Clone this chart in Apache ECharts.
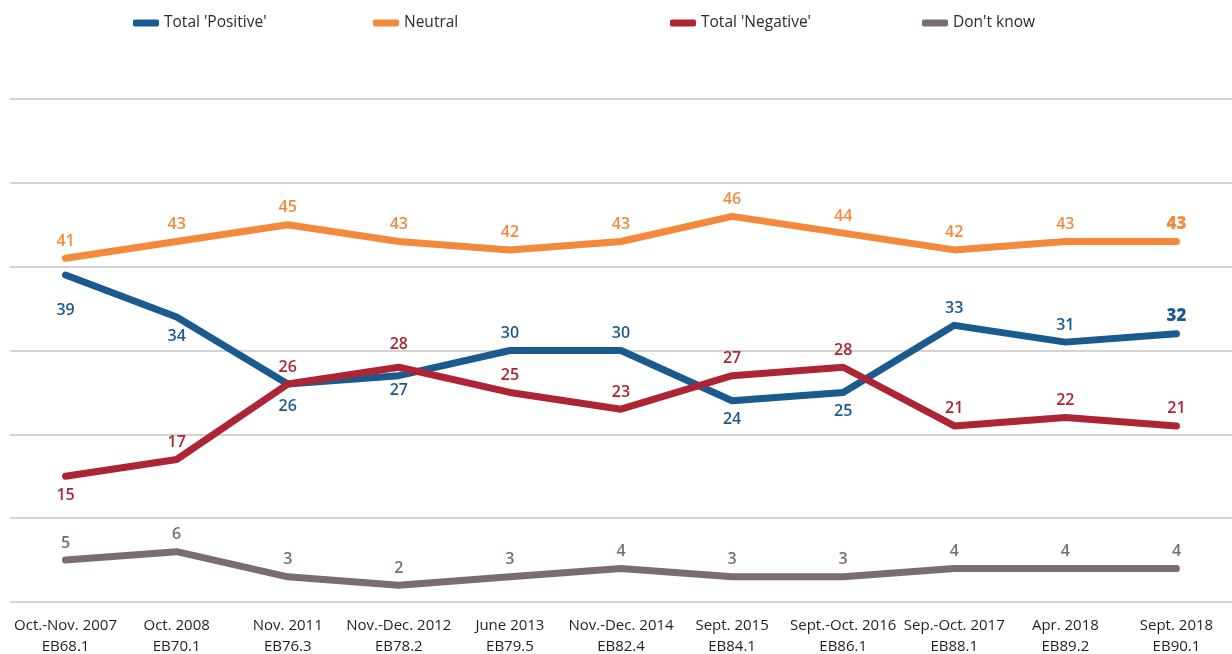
<!DOCTYPE html>
<html>
<head>
<meta charset="utf-8">
<script src="https://cdn.jsdelivr.net/npm/echarts@6/dist/echarts.min.js"></script>
<style>
  html, body { margin: 0; padding: 0; background: #fff; }
  #chart { width: 1232px; height: 654px; }
</style>
</head>
<body>
<div id="chart"></div>
<script>
const waves = [
  "Oct.-Nov. 2007\nEB68.1", "Oct. 2008\nEB70.1", "Nov. 2011\nEB76.3", "Nov.-Dec. 2012\nEB78.2",
  "June 2013\nEB79.5", "Nov.-Dec. 2014\nEB82.4", "Sept. 2015\nEB84.1", "Sept.-Oct. 2016\nEB86.1",
  "Sep.-Oct. 2017\nEB88.1", "Apr. 2018\nEB89.2", "Sept. 2018\nEB90.1"
];
const positive = [39, 34, 26, 27, 30, 30, 24, 25, 33, 31, 32];
const neutral = [41, 43, 45, 43, 42, 43, 46, 44, 42, 43, 43];
const negative = [15, 17, 26, 28, 25, 23, 27, 28, 21, 22, 21];
const dontKnow = [5, 6, 3, 2, 3, 4, 3, 3, 4, 4, 4];

// which labels sit under the line, and a few that sit further off
const positiveBelow = [0, 1, 2, 3, 6, 7];
const negativeBelow = [0];
const extraGap = { positive: { 0: 16, 2: 3, 3: -4 }, negative: { 3: 6 } };

const font = "'Open Sans', sans-serif";
const last = waves.length - 1;

const buildData = (values, name, below, boldLast) =>
  values.map((v, i) => {
    const under = below.includes(i);
    const label = {
      position: under ? "bottom" : "top",
      distance: (under ? 11 : 9) + ((extraGap[name] || {})[i] || 0),
    };
    if (boldLast && i === last) {
      label.fontSize = 17;
      label.fontWeight = 800;
    }
    return { value: v, label };
  });

const makeSeries = (name, values, color, key, below, boldLast) => ({
  name,
  type: "line",
  data: buildData(values, key, below, boldLast),
  showSymbol: true,
  symbol: "circle",
  symbolSize: 0.1,
  lineStyle: { width: 7, color, cap: "round", join: "round" },
  itemStyle: { color },
  label: {
    show: true,
    color,
    fontFamily: font,
    fontSize: 16,
    fontWeight: 600,
  },
  emphasis: { disabled: true },
  z: 3,
});

const legendItem = (name, left) => ({
  data: [name],
  left,
  top: 10,
  icon: "roundRect",
  itemWidth: 26,
  itemHeight: 7,
  itemGap: 10,
  textStyle: { color: "#2b2b2b", fontFamily: font, fontSize: 15.5 },
  selectedMode: false,
});

const chart = echarts.init(document.getElementById("chart"));
chart.setOption({
  animation: false,
  legend: [
    legendItem("Total 'Positive'", 128),
    legendItem("Neutral", 368),
    legendItem("Total 'Negative'", 665),
    legendItem("Don't know", 917),
  ],
  grid: { left: 10, right: 0, top: 99, bottom: 52, outerBoundsMode: "none", containLabel: false },
  xAxis: {
    type: "category",
    data: waves,
    boundaryGap: true,
    axisLine: { show: false },
    axisTick: { show: false },
    axisLabel: {
      color: "#231f20",
      fontFamily: font,
      fontSize: 15,
      lineHeight: 21,
      margin: 13,
      interval: 0,
    },
  },
  yAxis: {
    type: "value",
    min: 0,
    max: 60,
    interval: 10,
    axisLabel: { show: false },
    axisLine: { show: false },
    axisTick: { show: false },
    splitLine: { lineStyle: { color: "#d3d3d3", width: 2 } },
  },
  series: [
    makeSeries("Total 'Positive'", positive, "#1b5a8e", "positive", positiveBelow, true),
    makeSeries("Neutral", neutral, "#f4883b", "neutral", [], true),
    makeSeries("Total 'Negative'", negative, "#ad2535", "negative", negativeBelow, false),
    makeSeries("Don't know", dontKnow, "#7b6b72", "dontKnow", [], false),
  ],
});
</script>
</body>
</html>
